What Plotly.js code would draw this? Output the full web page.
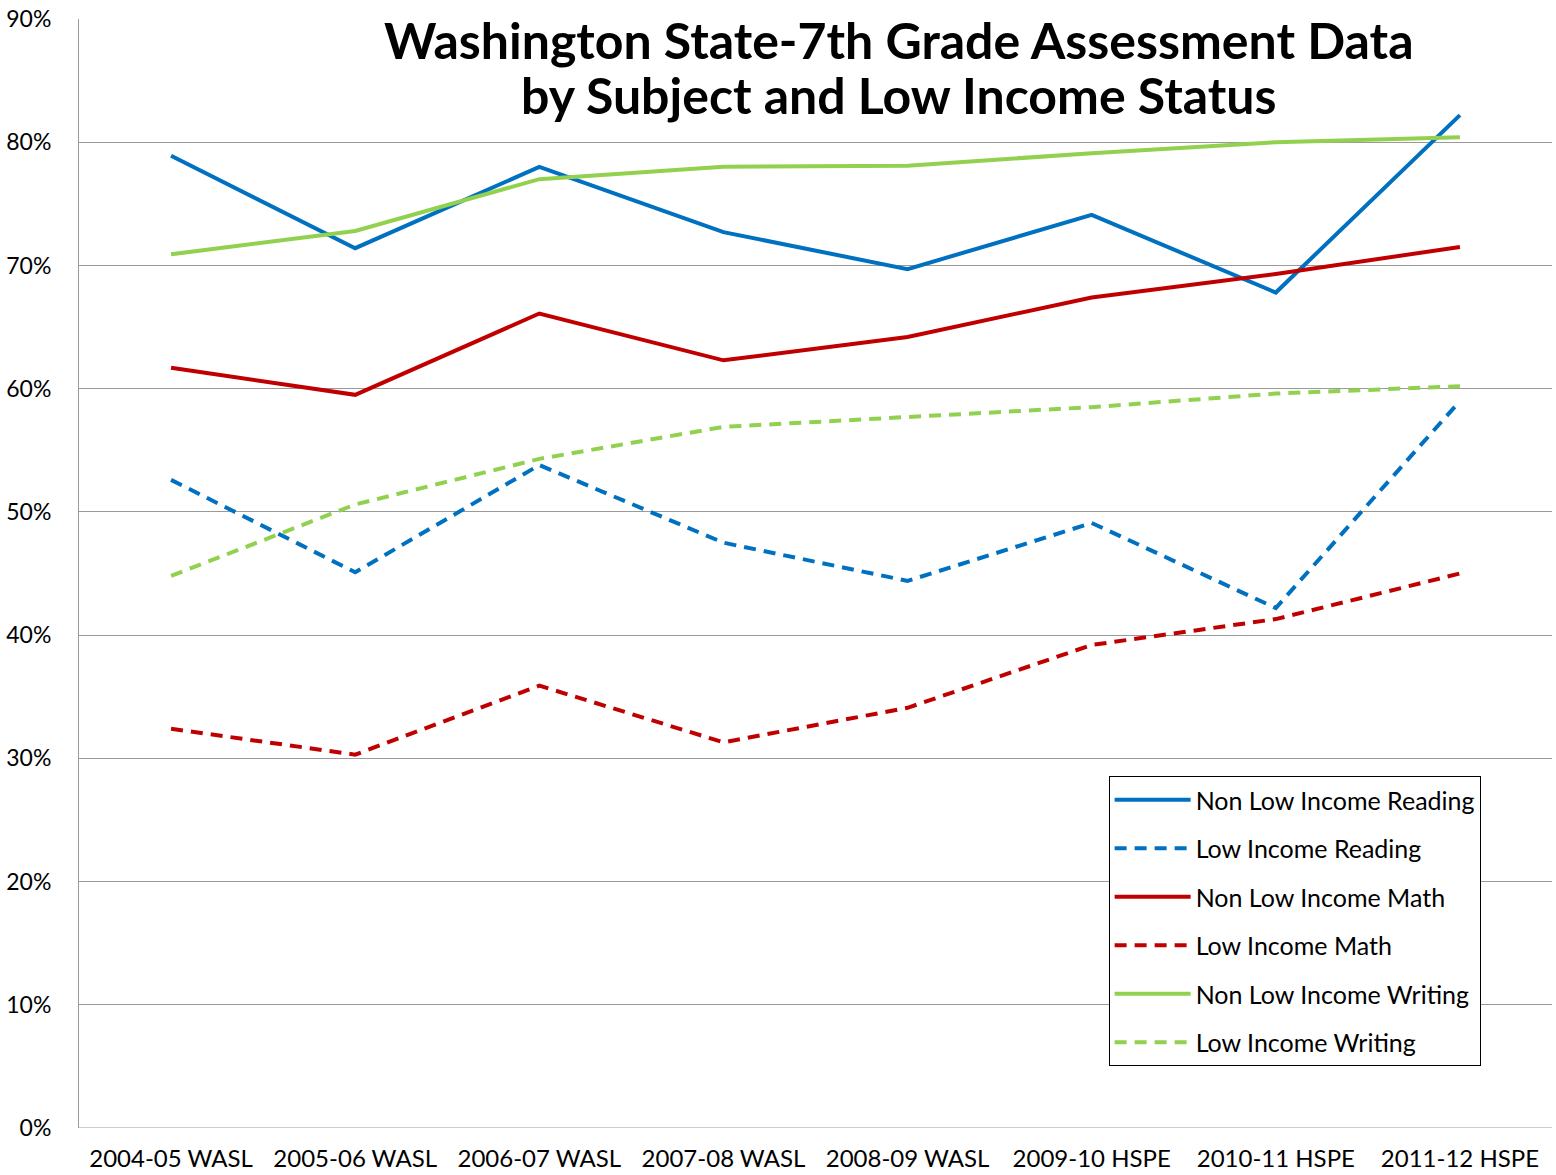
<!DOCTYPE html>
<html>
<head>
<meta charset="utf-8">
<script src="https://cdn.plot.ly/plotly-3.0.1.min.js"></script>
<style>html,body{margin:0;padding:0;background:#fff;}#chart{width:1556px;height:1175px;}</style>
</head>
<body>
<div id="chart"></div>
<script>
const categories = ["2004-05 WASL","2005-06 WASL","2006-07 WASL","2007-08 WASL","2008-09 WASL","2009-10 HSPE","2010-11 HSPE","2011-12 HSPE"];
const nonLowIncomeReading = [0.789, 0.714, 0.780, 0.727, 0.697, 0.741, 0.678, 0.822];
const lowIncomeReading    = [0.526, 0.451, 0.538, 0.475, 0.444, 0.491, 0.422, 0.590];
const nonLowIncomeMath    = [0.617, 0.595, 0.661, 0.623, 0.642, 0.674, 0.693, 0.715];
const lowIncomeMath       = [0.324, 0.303, 0.359, 0.313, 0.341, 0.392, 0.413, 0.450];
const nonLowIncomeWriting = [0.709, 0.728, 0.770, 0.780, 0.781, 0.791, 0.800, 0.804];
const lowIncomeWriting    = [0.448, 0.506, 0.543, 0.569, 0.577, 0.585, 0.596, 0.602];
const seriesNames = ["Non Low Income Reading","Low Income Reading","Non Low Income Math","Low Income Math","Non Low Income Writing","Low Income Writing"];
const yTicks = [0,0.1,0.2,0.3,0.4,0.5,0.6,0.7,0.8,0.9];
const yTickText = ["0%","10%","20%","30%","40%","50%","60%","70%","80%","90%"];
const titleLines = ["Washington State-7th Grade Assessment Data", "by Subject and Low Income Status"];

const blue = "#0070C0", red = "#C00000", green = "#92D050";
const font = "Lato, 'Open Sans', sans-serif";
const dashed = "12px,8px";
const seriesData = [nonLowIncomeReading, lowIncomeReading, nonLowIncomeMath, lowIncomeMath, nonLowIncomeWriting, lowIncomeWriting];
const colors = [blue, blue, red, red, green, green];
const dashes = ["solid", dashed, "solid", dashed, "solid", dashed];

const traces = seriesData.map((ys, i) => ({
  type: "scatter", mode: "lines",
  x: categories, y: ys, name: seriesNames[i],
  legendgroup: "g" + i,
  line: {color: colors[i], width: 4, dash: dashes[i]},
  hoverinfo: "skip"
}));

const titleY = [0.981, 0.9315];
const layout = {
  width: 1556, height: 1175,
  margin: {l: 79, r: 4, t: 19, b: 47},
  paper_bgcolor: "#fff", plot_bgcolor: "#fff",
  showlegend: true,
  font: {family: font, color: "#000"},
  xaxis: {
    type: "category", range: [-0.5, 7.5],
    showgrid: false, zeroline: false,
    showline: false, ticks: "", ticklabelstandoff: 14,
    tickfont: {size: 24, family: font, color: "#000"},
    fixedrange: true
  },
  yaxis: {
    range: [0, 0.9], tickvals: yTicks, ticktext: yTickText,
    showgrid: true, gridcolor: "#9a9a9a", gridwidth: 1,
    zeroline: false, showline: true, linecolor: "#9a9a9a", linewidth: 1,
    ticks: "", ticklabelstandoff: 22,
    tickfont: {size: 23, family: font, color: "#000"},
    fixedrange: true
  },
  shapes: [
    {type: "line", xref: "paper", yref: "y", x0: 0, x1: 1, y0: 0, y1: 0, line: {color: "#9a9a9a", width: 1}}
  ],
  annotations: titleLines.map((t, i) => ({
    xref: "paper", yref: "paper", x: 0.557, y: titleY[i], xanchor: "center", yanchor: "middle",
    text: "<b>" + t + "</b>",
    showarrow: false, align: "center",
    font: {size: 50, family: font, color: "#000", weight: 900}
  })),
  legend: {
    x: 0.699, y: 0.3174, xanchor: "left", yanchor: "top",
    bordercolor: "#000", borderwidth: 1, bgcolor: "#fff",
    font: {size: 25, family: font, color: "#000"},
    tracegroupgap: 13, itemwidth: 76
  }
};

Plotly.newPlot("chart", traces, layout, {displayModeBar: false, staticPlot: true});
</script>
</body>
</html>
